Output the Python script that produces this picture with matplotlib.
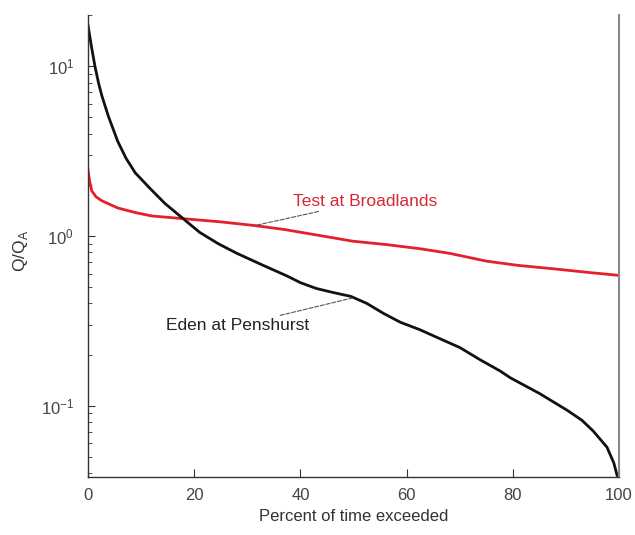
import numpy as np
import matplotlib.pyplot as plt

plt.rcParams['font.family'] = ['Liberation Sans', 'DejaVu Sans']

# flow duration curves
eden_x = [0, 0.6, 1.3, 2.0, 2.6, 3.8, 5.6, 7.2, 8.9, 11.7, 14.5, 17.7, 21,
          24.5, 28, 33, 37.5, 40, 43, 46, 49.5, 52.5, 55.6, 58.8, 62.5, 66,
          70, 74, 77.6, 79.5, 85, 90.2, 93, 95.1, 97.7, 99, 99.6, 100]
eden_y = [17.4, 13.3, 10.0, 7.9, 6.7, 5.1, 3.6, 2.85, 2.35, 1.9, 1.55, 1.28,
          1.05, 0.90, 0.79, 0.67, 0.58, 0.53, 0.49, 0.465, 0.44, 0.40, 0.35,
          0.31, 0.28, 0.25, 0.22, 0.185, 0.16, 0.146, 0.118, 0.094, 0.082,
          0.071, 0.057, 0.046, 0.039, 0.037]

test_x = [0, 0.3, 0.7, 1.5, 2.6, 5.6, 9, 12, 18.3, 24.9, 31.4, 37, 44, 49.9,
          56, 62.5, 68, 75, 81, 87.6, 94, 100]
test_y = [2.45, 2.1, 1.84, 1.7, 1.61, 1.46, 1.37, 1.31, 1.26, 1.21, 1.15, 1.09,
          1.0, 0.93, 0.89, 0.84, 0.79, 0.71, 0.67, 0.64, 0.61, 0.585]

xticks = [0, 20, 40, 60, 80, 100]

fig = plt.figure(figsize=(6.35, 5.35), dpi=100)
ax = fig.add_axes([0.1386, 0.1084, 0.8364, 0.8636])

ax.plot(test_x, test_y, color='#e51f2b', lw=2.0)
ax.plot(eden_x, eden_y, color='#111111', lw=2.0)

ax.set_yscale('log')
ax.set_xlim(0, 100)
ax.set_ylim(0.038, 20)
ax.set_xticks(xticks)

ax.spines['top'].set_visible(False)
ax.spines['right'].set_color('#8a8a8a')
ax.spines['right'].set_linewidth(1.5)
for s in ['left', 'bottom']:
    ax.spines[s].set_color('#333333')
    ax.spines[s].set_linewidth(1.0)

ax.tick_params(axis='both', which='both', direction='in', colors='#333333',
               labelcolor='#444444', labelsize=12)
ax.tick_params(axis='x', which='major', length=6, pad=8)
ax.tick_params(axis='y', which='major', length=5, pad=10, right=False)
ax.tick_params(axis='y', which='minor', length=3, right=False)
ax.tick_params(axis='x', which='minor', bottom=False)

ax.set_xlabel('Percent of time exceeded', fontsize=12, color='#333333')
ax.set_ylabel(r'Q/Q$_\mathregular{A}$', fontsize=12.5, color='#333333')
ax.xaxis.set_label_coords(0.5, -0.07)
ax.yaxis.set_label_coords(-0.11, 0.49)

ax.annotate('Test at Broadlands', xy=(31.4, 1.15), xytext=(38.6, 1.6),
            color='#d42a35', fontsize=12.5, ha='left', va='center',
            arrowprops=dict(arrowstyle='-', color='#555555', lw=0.8,
                            linestyle='--', shrinkA=0, shrinkB=0))
ax.annotate('Eden at Penshurst', xy=(49.7, 0.43), xytext=(41.6, 0.296),
            color='#222222', fontsize=12.5, ha='right', va='center',
            arrowprops=dict(arrowstyle='-', color='#555555', lw=0.8,
                            linestyle='--', shrinkA=0, shrinkB=0))

plt.savefig('out.png', dpi=100)
